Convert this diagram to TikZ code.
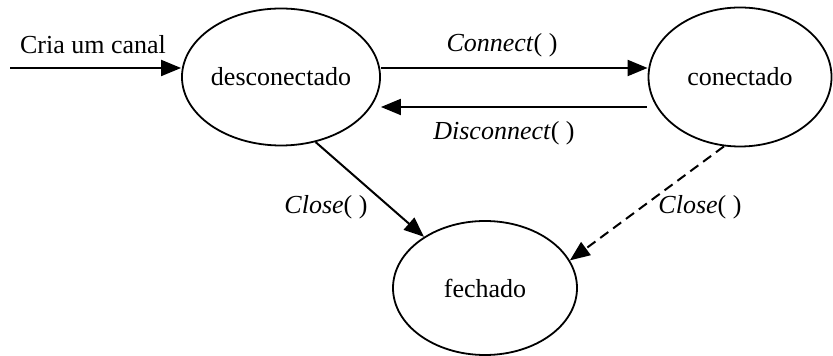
\documentclass[tikz,border=0pt]{standalone}
\usepackage{fontspec}
\setmainfont{Liberation Serif}
\usetikzlibrary{arrows.meta,shapes.geometric}
\begin{document}
\begin{tikzpicture}[x=0.5pt,y=-0.5pt,
  state/.style={ellipse,draw,line width=0.9pt,inner sep=0pt,font=\fontsize{13}{15}\selectfont},
  arr/.style={line width=1pt,-{Triangle[length=10pt,width=8pt]}},
  lbl/.style={font=\fontsize{13}{15}\selectfont,inner sep=0pt}]
\useasboundingbox (0,0) rectangle (833,356);
\node[state,minimum width=97pt,minimum height=68.5pt] (d) at (281,77) {desconectado};
\node[state,minimum width=91.5pt,minimum height=69.5pt] (c) at (740,77) {conectado};
\node[state,minimum width=92pt,minimum height=67pt] (f) at (485,288) {fechado};
\coordinate (s) at (10,68);
\draw[arr] (s) -- (d.west |- s);
\draw[arr] (d.east |- 0,68) -- (c.west |- 0,68);
\draw[arr] ([xshift=-0.5pt]c.west |- 0,107) -- (d.east |- 0,107);
\draw[arr] (d.-62) -- (f.140);
\draw[arr,dash pattern=on 5pt off 3pt] (c.-103) -- (f.18);
\node[lbl] (l0) at (93,45) {Cria um canal};
\node[lbl] (l1) at (502,45) {\textit{Connect}( )};
\node[lbl] (l2) at (504,133) {\textit{Disconnect}( )};
\node[lbl] (l3) at (326,207) {\textit{Close}( )};
\node[lbl] (l4) at (700,207) {\textit{Close}( )};
\end{tikzpicture}
\end{document}
